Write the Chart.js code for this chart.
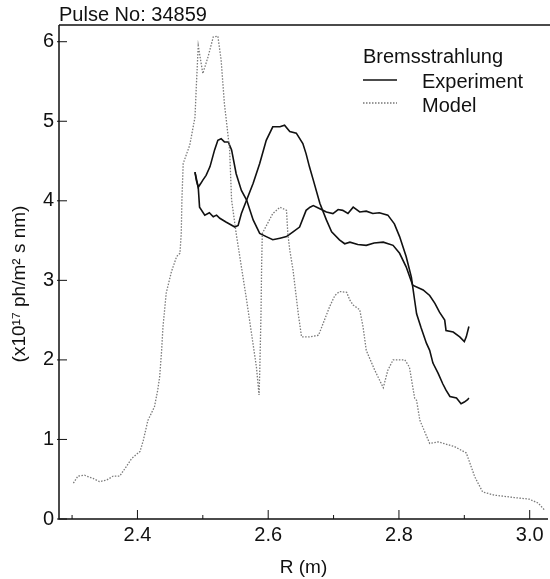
<!DOCTYPE html>
<html>
<head>
<meta charset="utf-8">
<script src="https://cdn.jsdelivr.net/npm/chart.js@4.4.1/dist/chart.umd.min.js"></script>
<style>
  html, body { margin: 0; padding: 0; background: #fff; }
  #wrap { width: 550px; height: 579px; position: relative; }
</style>
</head>
<body>
<div id="wrap"><canvas id="brems"></canvas></div>
<script>
'use strict';

// --- data (R in m, intensity in 1e17 ph/m2 s nm) ---
const modelR = [2.302, 2.309, 2.319, 2.332, 2.342, 2.353, 2.363, 2.373, 2.383, 2.391,
  2.404, 2.409, 2.416, 2.426, 2.431, 2.434, 2.437, 2.439, 2.444, 2.452,
  2.460, 2.465, 2.467, 2.468, 2.470, 2.480, 2.488, 2.490, 2.493, 2.500,
  2.508, 2.516, 2.523, 2.528, 2.533, 2.536, 2.541, 2.544, 2.551, 2.567,
  2.582, 2.586, 2.587, 2.589, 2.590, 2.591, 2.607, 2.618, 2.628, 2.630,
  2.633, 2.638, 2.646, 2.651, 2.663, 2.677, 2.686, 2.694, 2.702, 2.709,
  2.720, 2.725, 2.730, 2.740, 2.745, 2.750, 2.763, 2.776, 2.783, 2.791,
  2.809, 2.816, 2.824, 2.827, 2.832, 2.847, 2.860, 2.885, 2.903, 2.916,
  2.928, 2.946, 2.976, 2.999, 3.013, 3.023];
const modelVal = [0.45, 0.54, 0.55, 0.51, 0.47, 0.49, 0.54, 0.54, 0.66, 0.76,
  0.85, 0.99, 1.24, 1.41, 1.62, 1.79, 2.12, 2.41, 2.84, 3.11,
  3.30, 3.34, 3.59, 4.01, 4.47, 4.70, 5.05, 5.43, 5.95, 5.60,
  5.81, 6.06, 6.07, 5.77, 5.22, 5.01, 4.64, 4.01, 3.59, 2.75,
  1.91, 1.56, 1.83, 2.58, 3.21, 3.59, 3.84, 3.92, 3.88, 3.59,
  3.38, 3.13, 2.58, 2.29, 2.29, 2.31, 2.50, 2.67, 2.81, 2.86,
  2.85, 2.75, 2.69, 2.63, 2.42, 2.12, 1.87, 1.65, 1.87, 2.00,
  2.00, 1.91, 1.52, 1.49, 1.24, 0.95, 0.97, 0.91, 0.83, 0.53,
  0.34, 0.30, 0.27, 0.25, 0.20, 0.11];

const expAR = [2.488, 2.490, 2.493, 2.497, 2.500, 2.505, 2.511, 2.518, 2.523, 2.528,
  2.533, 2.539, 2.544, 2.551, 2.559, 2.567, 2.577, 2.587, 2.597, 2.607,
  2.618, 2.628, 2.638, 2.648, 2.658, 2.664, 2.669, 2.679, 2.689, 2.699,
  2.707, 2.714, 2.722, 2.730, 2.740, 2.750, 2.760, 2.770, 2.783, 2.793,
  2.801, 2.811, 2.819, 2.824, 2.827, 2.834, 2.842, 2.847, 2.852, 2.860,
  2.867, 2.872, 2.878, 2.888, 2.895, 2.900, 2.905, 2.907];
const expAVal = [4.36, 4.26, 4.17, 4.22, 4.26, 4.32, 4.43, 4.64, 4.76, 4.78,
  4.74, 4.74, 4.64, 4.34, 4.13, 4.01, 3.76, 3.59, 3.55, 3.51,
  3.53, 3.55, 3.61, 3.67, 3.88, 3.92, 3.94, 3.90, 3.86, 3.84,
  3.89, 3.88, 3.84, 3.92, 3.86, 3.87, 3.84, 3.85, 3.82, 3.71,
  3.55, 3.30, 3.04, 2.75, 2.58, 2.40, 2.21, 2.12, 1.96, 1.83,
  1.70, 1.62, 1.54, 1.52, 1.45, 1.47, 1.50, 1.52];

const expBR = [2.488, 2.493, 2.495, 2.503, 2.510, 2.516, 2.521, 2.526, 2.536, 2.549,
  2.554, 2.559, 2.567, 2.577, 2.587, 2.597, 2.607, 2.618, 2.625, 2.633,
  2.643, 2.653, 2.658, 2.663, 2.669, 2.679, 2.689, 2.697, 2.709, 2.717,
  2.725, 2.737, 2.750, 2.762, 2.776, 2.791, 2.801, 2.811, 2.821, 2.837,
  2.847, 2.855, 2.862, 2.870, 2.872, 2.883, 2.893, 2.900, 2.903, 2.907];
const expBVal = [4.36, 4.17, 3.92, 3.82, 3.85, 3.80, 3.82, 3.78, 3.73, 3.67,
  3.69, 3.84, 4.01, 4.22, 4.47, 4.76, 4.93, 4.93, 4.95, 4.87,
  4.85, 4.72, 4.59, 4.43, 4.26, 3.97, 3.76, 3.61, 3.51, 3.46,
  3.48, 3.45, 3.44, 3.47, 3.48, 3.44, 3.34, 3.17, 2.94, 2.88,
  2.81, 2.71, 2.60, 2.50, 2.37, 2.35, 2.29, 2.23, 2.29, 2.42];

const xTicks = [2.4, 2.6, 2.8, 3.0];
const xMinorTicks = [2.3, 2.5, 2.7, 2.9];
const yTicks = [0, 1, 2, 3, 4, 5, 6];

const FONT = '"Liberation Sans", Arial, Helvetica, sans-serif';
const INK = '#111';

function pairs(xs, ys) {
  return xs.map((x, i) => ({ x, y: ys[i] }));
}

// frame, inward ticks, title, legend and axis titles
const decorations = {
  id: 'decorations',
  afterDraw(chart) {
    const { ctx, chartArea: a, scales } = chart;
    const xs = scales.x, ys = scales.y;
    ctx.save();
    ctx.strokeStyle = INK;
    ctx.lineWidth = 1.5;
    ctx.beginPath();
    ctx.moveTo(a.left, a.top);
    ctx.lineTo(chart.width, a.top);
    ctx.moveTo(a.left, a.top);
    ctx.lineTo(a.left, a.bottom);
    ctx.lineTo(a.right, a.bottom);
    ctx.stroke();

    ctx.lineWidth = 1;
    ctx.beginPath();
    xTicks.forEach(v => {
      const p = xs.getPixelForValue(v);
      ctx.moveTo(p, a.bottom); ctx.lineTo(p, a.bottom - 9);
    });
    xMinorTicks.forEach(v => {
      const p = xs.getPixelForValue(v);
      ctx.moveTo(p, a.bottom); ctx.lineTo(p, a.bottom - 4);
    });
    yTicks.forEach(v => {
      const p = ys.getPixelForValue(v);
      ctx.moveTo(a.left - 2, p); ctx.lineTo(a.left + 8, p);
    });
    ctx.stroke();

    ctx.fillStyle = INK;
    ctx.font = '20px ' + FONT;
    ctx.textBaseline = 'alphabetic';
    ctx.textAlign = 'left';
    ctx.fillText('Pulse No: 34859', a.left, 21);

    // legend
    ctx.fillText('Bremsstrahlung', 363, 63);
    ctx.fillText('Experiment', 422, 88);
    ctx.fillText('Model', 422, 112);
    ctx.strokeStyle = INK;
    ctx.lineWidth = 1.3;
    ctx.beginPath(); ctx.moveTo(363, 80); ctx.lineTo(397, 80); ctx.stroke();
    ctx.strokeStyle = '#777';
    ctx.setLineDash([1.5, 1.5]);
    ctx.beginPath(); ctx.moveTo(363, 103); ctx.lineTo(397, 103); ctx.stroke();
    ctx.setLineDash([]);

    // axis titles
    ctx.font = '19px ' + FONT;
    ctx.textAlign = 'center';
    ctx.fillText('R (m)', (a.left + a.right) / 2, 573);
    ctx.translate(25, (a.top + a.bottom) / 2 + 12);
    ctx.rotate(-Math.PI / 2);
    ctx.fillText('(x10\u00b9\u2077 ph/m\u00b2 s nm)', 0, 0);
    ctx.restore();
  },
};

new Chart(document.getElementById('brems'), {
  type: 'line',
  data: {
    datasets: [
      {
        label: 'Model',
        data: pairs(modelR, modelVal),
        borderColor: '#7a7a7a',
        borderWidth: 1.3,
        borderDash: [1.5, 1.5],
        pointRadius: 0,
        tension: 0,
      },
      {
        label: 'Experiment',
        data: pairs(expAR, expAVal),
        borderColor: INK,
        borderWidth: 1.6,
        pointRadius: 0,
        tension: 0,
      },
      {
        label: 'Experiment',
        data: pairs(expBR, expBVal),
        borderColor: INK,
        borderWidth: 1.6,
        pointRadius: 0,
        tension: 0,
      },
    ],
  },
  options: {
    responsive: true,
    maintainAspectRatio: false,
    animation: false,
    layout: { padding: { top: 25, right: 2, left: 0, bottom: 0 } },
    plugins: {
      legend: { display: false },
      title: { display: false },
      tooltip: { enabled: false },
    },
    scales: {
      x: {
        type: 'linear',
        min: 2.28,
        max: 3.028,
        afterBuildTicks: s => { s.ticks = xTicks.map(v => ({ value: v })); },
        afterFit: s => { s.height = 60; },
        ticks: {
          color: INK,
          font: { family: FONT, size: 20 },
          padding: 4,
          maxRotation: 0,
          callback: v => Number(v).toFixed(1),
        },
        grid: { display: false, drawTicks: false },
        border: { display: false },
      },
      y: {
        type: 'linear',
        min: 0,
        max: 6.21,
        afterBuildTicks: s => { s.ticks = yTicks.map(v => ({ value: v })); },
        afterFit: s => { s.width = 59; },
        ticks: {
          color: INK,
          font: { family: FONT, size: 20 },
          padding: 5,
          callback: v => String(v),
        },
        grid: { display: false, drawTicks: false },
        border: { display: false },
      },
    },
  },
  plugins: [decorations],
});
</script>
</body>
</html>
